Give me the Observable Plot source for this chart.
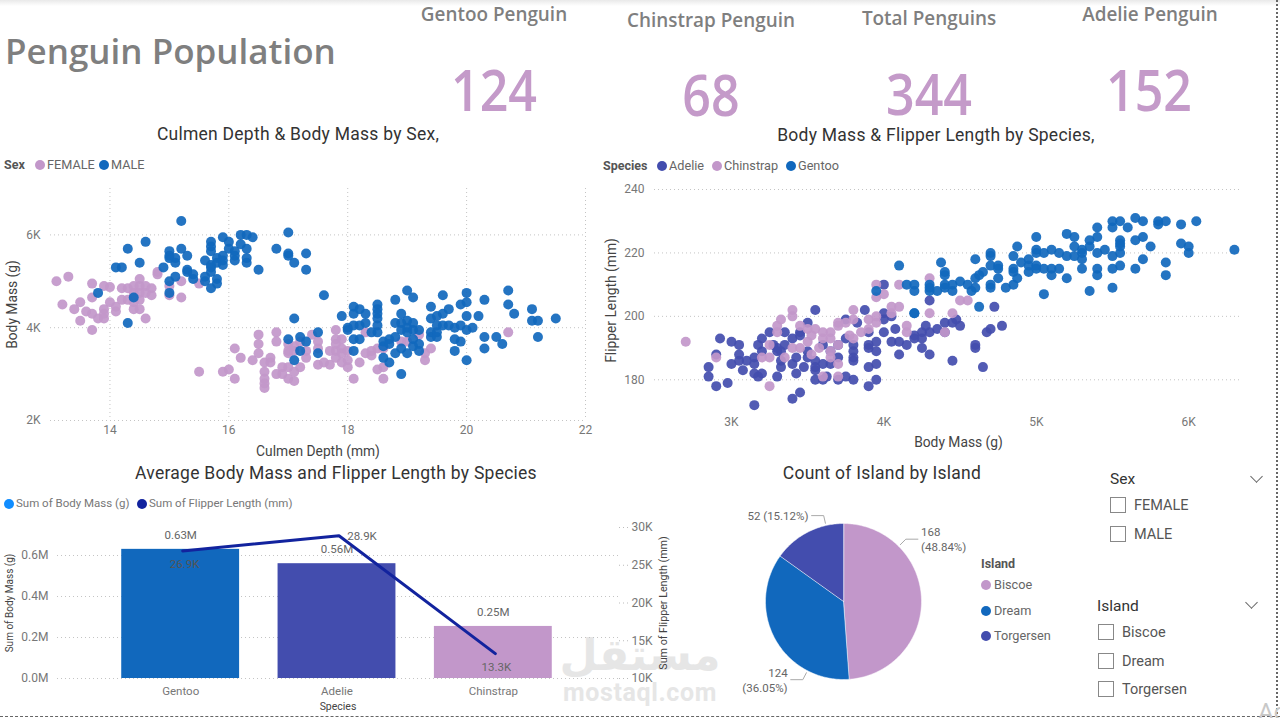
<!DOCTYPE html>
<html><head><meta charset="utf-8">
<script src="https://cdn.jsdelivr.net/npm/d3@7"></script>
<script src="https://cdn.jsdelivr.net/npm/@observablehq/plot@0.6"></script>
<style>
html,body{margin:0;padding:0;background:#fff;overflow:hidden}
#page{position:relative;width:1280px;height:718px;overflow:hidden;background:#fff;font-family:Roboto,sans-serif}
.t{position:absolute;white-space:nowrap;transform:translate(-50%,-50%);line-height:1}
.l{position:absolute;white-space:nowrap;transform:translateY(-50%);line-height:1}
.dot{position:absolute;width:10px;height:10px;border-radius:50%;transform:translate(-50%,-50%)}
.box{position:absolute;width:14px;height:14px;border:1px solid #888;transform:translateY(-50%);background:#fff}
.p{position:absolute}
</style></head><body><div id="page"></div>
<script>
const PINK="#C297CA",BLUE="#1168BD",INDIGO="#434DAE",NAVY="#12239E";

// Scatter 1: [culmen depth mm, body mass g]
const maleDepthMass=[[15.2,6300],[17,6050],[14.6,5850],[14.3,5700],[15.2,5700],[15,5650],[15,5550],[15,5500],[15.1,5500],[15.3,5550],[14.5,5400],[15.1,5400],[14.1,5300],[14.2,5300],[14.9,5300],[15.3,5250],[15.3,5200],[15.4,5150],[15.4,5050],[15.1,5100],[15,5000],[15.6,5100],[15.6,5000],[15.7,5200],[15.7,4850],[15.8,5050],[15.8,4950],[15,4750],[13.8,4750],[14.4,4650],[14.3,4100],[15.6,5450],[15.7,5850],[15.7,5750],[15.7,5650],[15.7,5350],[15.7,5300],[15.8,5500],[15.8,5400],[15.9,5950],[15.9,5550],[15.9,5450],[15.9,5350],[16,5850],[16,5700],[16.1,5650],[16.1,5550],[16.1,5450],[16.2,6000],[16.2,5800],[16.3,6000],[16.3,5700],[16.3,5500],[16.3,5400],[16.4,5950],[16.5,5250],[16.8,5700],[17,5600],[17,5550],[17.1,5400],[17.3,5600],[17.3,5250],[17.6,4700],[17.1,4200],[17.9,4250],[18.1,4450],[18.1,4300],[18.2,4400],[18.3,4300],[18,4000],[18,3950],[18.1,4050],[18.1,3750],[18.2,4050],[18.2,3750],[18.3,4100],[18.5,4500],[18.5,4400],[18.5,4300],[18.5,4200],[18.5,4050],[18.5,3900],[18.4,3900],[18.1,3500],[18.6,3700],[18.6,3600],[18.6,3350],[18.7,3750],[18.7,3650],[18.7,3250],[18.8,4600],[18.8,4100],[18.8,3800],[18.8,3450],[18.9,4300],[18.9,4100],[18.9,3950],[18.9,3550],[18.9,3000],[19,4800],[19,4150],[19,4000],[19,3900],[19,3450],[19.1,4650],[19.1,4100],[19.1,3950],[19.1,3750],[19.1,3600],[19.2,3950],[19.2,3650],[19.2,3500],[19.4,4450],[19.4,4200],[19.4,3900],[19.4,3800],[19.5,4250],[19.5,4050],[19.5,3900],[19.5,3800],[19.6,4700],[19.6,4300],[19.6,4050],[19.7,4400],[19.7,4050],[19.8,4000],[19.8,3750],[19.8,3500],[19.9,4500],[19.9,4050],[19.9,3700],[20,4750],[20,4550],[20,4250],[20,3950],[20,3300],[20.1,4000],[20.2,4250],[20.3,4600],[20.3,3800],[20.3,3550],[20.5,3800],[20.6,3650],[20.7,4800],[20.7,4500],[20.8,4300],[21.1,4400],[21.1,4150],[21.2,4150],[21.2,3800],[21.5,4200],[17,3750],[17.1,3300],[17.2,3800],[17.2,3500],[17.3,3700],[17.5,3900],[17.5,3450]];
const femaleDepthMass=[[13.1,5000],[13.3,5100],[13.2,4500],[13.4,4400],[13.5,4550],[13.5,4150],[13.6,4350],[13.7,4950],[13.7,4650],[13.7,4300],[13.7,3950],[13.8,4200],[13.9,4900],[13.9,4400],[13.9,4300],[13.9,4200],[14,4875],[14,4550],[14.1,4450],[14.1,4350],[14.2,4850],[14.2,4600],[14.3,4850],[14.3,4600],[14.4,4900],[14.4,4750],[14.4,4550],[14.4,4400],[14.5,5050],[14.5,4900],[14.5,4750],[14.5,4600],[14.5,4400],[14.6,4900],[14.6,4750],[14.6,4200],[14.7,4850],[14.7,4700],[14.8,5200],[14.8,5150],[15,4900],[15,4700],[15.2,5000],[15.2,4650],[15.5,4950],[15.5,3050],[15.9,3050],[16,3100],[16.1,3550],[16.1,2900],[16.2,3350],[16.4,3300],[16.5,3850],[16.5,3650],[16.5,3450],[16.6,3250],[16.6,3050],[16.6,2900],[16.6,2800],[16.6,2700],[16.7,3350],[16.7,3250],[16.8,3900],[16.8,3700],[16.8,3000],[16.9,3150],[16.9,3000],[17,3650],[17,3500],[17,3450],[17,3150],[17,2900],[17.1,3600],[17.1,3500],[17.1,3050],[17.1,2850],[17.2,3700],[17.2,3150],[17.3,3500],[17.3,3350],[17.4,3850],[17.5,3700],[17.5,3550],[17.5,3200],[17.6,3250],[17.7,3500],[17.7,3200],[17.8,3950],[17.8,3750],[17.8,3650],[17.8,3500],[17.8,3350],[17.9,3750],[17.9,3550],[17.9,3450],[17.9,3250],[18,3500],[18,3300],[18,3150],[18.1,2900],[18.2,3250],[18.3,3900],[18.3,3450],[18.4,3400],[18.4,3500],[18.5,3550],[18.5,3100],[18.6,3550],[18.6,3150],[18.6,2900],[18.9,3700],[19,3700],[19.2,3850],[19.3,3300],[19.3,3450],[19.4,3550],[20.7,3900]];

// Scatter 2: [body mass g, flipper length mm]
const adelieMassFlipper=[[3150,172],[3400,174],[3450,176],[2900,178],[2975,179],[3900,178],[2850,181],[3175,181],[3300,181],[3425,182],[3150,182],[3200,182],[3550,180],[3600,180],[3700,180],[3750,181],[3800,180],[3950,180],[3625,181],[2850,184],[3325,184],[3475,184],[3550,184],[3550,183],[3900,184],[3950,185],[3075,183],[4650,184],[4450,186],[2900,188],[3000,185],[3050,186],[3100,186],[3150,187],[3150,185],[3325,186],[3400,185],[3425,187],[3500,187],[3550,186],[3600,185],[3650,185],[3700,187],[3800,187],[3800,186],[4100,188],[4300,188],[3050,188],[3200,189],[3300,189],[3325,189],[3500,189],[3650,189],[3800,189],[3900,190],[3950,189],[3050,191],[2925,193],[3000,192],[3175,191],[3200,193],[3250,195],[3275,191],[3300,190],[3350,191],[3350,195],[3400,193],[3450,195],[3450,194],[3500,198],[3600,191],[3700,191],[3750,199],[3750,193],[3800,191],[3825,198],[3550,202],[3875,202],[3900,195],[3900,191],[3950,192],[4000,210],[4000,201],[4000,199],[4000,195],[4050,192],[4075,196],[4100,192],[4150,191],[4200,194],[4200,193],[4250,195],[4250,193],[4250,190],[4275,197],[4300,195],[4300,205],[4350,196],[4400,198],[4400,195],[4450,198],[4475,199],[4500,197],[4600,191],[4600,190],[4675,195],[4700,196],[4725,203],[4775,197],[4050,200]];
const chinstrapMassFlipper=[[2700,192],[2900,187],[3250,178],[3600,181],[3700,181],[3700,185],[3200,187],[3250,187],[3350,187],[3525,188],[3650,187],[3250,191],[3400,190],[3450,190],[3575,190],[3650,189],[3700,191],[3300,197],[3300,195],[3325,199],[3400,202],[3400,200],[3450,197],[3500,196],[3550,196],[3500,192],[3525,194],[3600,195],[3650,195],[3600,193],[3650,193],[3700,198],[3700,197],[3750,198],[3800,202],[3800,199],[3775,194],[3800,193],[3850,195],[3900,199],[3900,196],[3950,198],[3950,200],[4050,203],[4100,203],[4050,201],[3950,206],[4000,207],[3950,210],[4100,210],[4150,197],[4150,195],[4300,212],[4300,201],[4400,195],[4450,201],[4500,205],[4550,205]];
const gentooMassFlipper=[[5650,231],[5500,230],[5550,230],[5700,230],[5800,230],[5850,230],[6050,230],[5800,229],[5950,229],[5600,228],[5500,228],[5400,228],[5200,226],[5000,225],[5250,225],[5400,225],[5700,225],[5350,224],[5650,224],[5550,224],[5550,223],[5950,223],[5550,222],[5750,222],[6000,222],[5350,222],[5250,222],[4875,222],[5000,221],[5100,221],[5300,221],[5450,221],[6300,221],[4700,220],[5000,220],[5050,220],[5150,220],[5300,220],[5400,220],[5550,220],[6000,220],[4700,219],[4850,219],[5200,219],[5250,219],[5500,219],[5300,218],[4600,218],[4950,218],[5700,218],[4900,217],[4375,217],[5850,217],[4100,216],[4700,216],[4750,216],[5550,216],[4950,216],[5000,216],[4850,215],[5000,215],[5050,215],[5100,215],[5150,215],[5300,215],[5400,215],[5500,215],[5650,215],[4750,215],[4400,214],[4650,214],[4850,214],[4950,214],[4400,213],[5100,213],[5400,213],[5850,213],[4625,213],[4600,212],[4750,212],[4875,212],[5200,212],[4500,211],[4150,210],[4200,210],[4300,210],[4400,210],[4450,210],[4550,210],[4700,210],[4850,210],[4300,209],[4400,209],[4600,209],[4700,209],[4800,209],[5500,209],[3950,208],[4200,208],[4300,208],[4350,208],[4450,208],[4575,208],[5350,208],[5050,207],[4625,203],[4200,201],[4200,201]];

// Combo chart
const barSpecies=["Gentoo","Adelie","Chinstrap"];
const barColors=[BLUE,INDIGO,PINK];
const sumMass=[630000,560000,254000];
const sumFlipper=[26900,28900,13300];
const massLabels=["0.63M","0.56M","0.25M"];
const flipperLabels=["26.9K","28.9K","13.3K"];

// Pie
const islands=["Biscoe","Dream","Torgersen"];
const islandCounts=[168,124,52];
const islandLabels=["168\n(48.84%)","124\n(36.05%)","52 (15.12%)"];
const islandColors=[PINK,BLUE,INDIGO];
const leaderAngles=[45,207.5,347];

// KPI cards
const kpiNames=["Gentoo Penguin","Chinstrap Penguin","Total Penguins","Adelie Penguin"];
const kpiValues=["124","68","344","152"];

const page=document.getElementById("page");
function put(cls,text,x,y,css){const d=document.createElement("div");d.className=cls;d.textContent=text;d.style.cssText=`left:${x}px;top:${y}px;`+(css||"");page.appendChild(d);return d}
function mount(svg,x,y){svg.classList.add("p");svg.style.left=x+"px";svg.style.top=y+"px";svg.style.position="absolute";page.appendChild(svg)}

// top shade and page border
put("p","",0,0,"width:1280px;height:6px;background:linear-gradient(#e9e9e9,#fff)");
put("p","",1276,0,"width:0;height:718px;border-left:2px dotted #666");
put("p","",0,716,"width:1280px;height:0;border-top:1px dashed #666");

// Watermark
put("t","مستقل",640,654,"font:bold 44px 'DejaVu Sans';color:#e6e6e6");
put("t","mostaql.com",640,692,"font:bold 25px Roboto,sans-serif;color:#e6e6e6;letter-spacing:.6px");

// Headings
const HEAD="font-family:'Open Sans',sans-serif;font-weight:600;color:#7f7f7f;";
put("l","Penguin Population",5,50,HEAD+"font-size:35px");
const kpiX=[494,711,929,1150],kpiTitleY=[14,20,18,14],kpiValueX=[494,711,929,1149],kpiValueY=[89,94,93,89];
kpiNames.forEach((n,i)=>{
  put("t",n,kpiX[i],kpiTitleY[i],HEAD+"font-size:18.9px");
  put("t",kpiValues[i],kpiValueX[i],kpiValueY[i],`font-family:'Open Sans',sans-serif;font-weight:600;color:#C49AC9;font-size:57px;transform:translate(-50%,-50%) scaleX(.88);`);
});
const TITLE="font-family:Roboto,sans-serif;font-size:17.5px;color:#333;letter-spacing:.25px";
put("t","Culmen Depth & Body Mass by Sex,",298,135,TITLE);
put("t","Body Mass & Flipper Length by Species,",936,136,TITLE);
put("t","Average Body Mass and Flipper Length by Species",336,474,TITLE);
put("t","Count of Island by Island",882,474,TITLE);

// Legends
const LT="font-size:12.7px;color:#666;";const LB="font-size:12.5px;color:#555;font-weight:700;";
put("l","Sex",4,165,LB);
[["FEMALE",40,PINK],["MALE",104,BLUE]].forEach(([n,x,c])=>{put("dot","",x,165,`background:${c}`);put("l",n,x+7,165,LT)});
put("l","Species",603,166,LB);
[["Adelie",662,INDIGO],["Chinstrap",717,PINK],["Gentoo",791,BLUE]].forEach(([n,x,c])=>{put("dot","",x,166,`background:${c}`);put("l",n,x+7,166,LT)});
[["Sum of Body Mass (g)",9,"#118DFF"],["Sum of Flipper Length (mm)",142,NAVY]].forEach(([n,x,c])=>{put("dot","",x,504,`background:${c}`);put("l",n,x+7,504,"font-size:11.5px;color:#777")});
put("l","Island",981,564,LB);
islands.forEach((n,i)=>{const y=[585,611,636][i];put("dot","",986,y,`background:${islandColors[i]}`);put("l",n,994,y,LT)});

// Slicers
const SH="font-size:15.5px;color:#333;";const SI="font-size:14.5px;color:#555;";
put("l","Sex",1110,480,SH);
[["FEMALE",505],["MALE",534]].forEach(([n,y])=>{put("box","",1110,y,"");put("l",n,1134,y+1,SI)});
put("l","Island",1097,607,SH);
islands.forEach((n,i)=>{const y=[632,661,689][i];put("box","",1098,y,"");put("l",n,1122,y+1,SI)});
[[1256,478],[1251,604]].forEach(([x,y])=>{put("p","",x-4,y-6,"width:8px;height:8px;border-right:1px solid #666;border-bottom:1px solid #666;transform:rotate(45deg) ")});
put("l","Ac",1258,712,"font-size:24px;color:#c8c8c8;");

const axisBase={tickSize:0,fontSize:12,fill:"#777",label:null};
const GRID={stroke:"#c4c4c4",strokeOpacity:1,strokeDasharray:"1 3"};
const AXT={fill:"#444",textAnchor:"middle",lineAnchor:"middle"};

// Scatter 1
mount(Plot.plot({width:600,height:280,marginLeft:50,marginRight:15,marginTop:8,marginBottom:40,
  style:{background:"transparent",fontFamily:"Roboto,sans-serif",overflow:"visible"},
  x:{domain:[13,22]},y:{domain:[2000,7000]},
  marks:[
    Plot.gridX([14,16,18,20,22],GRID),
    Plot.gridY([2000,4000,6000],GRID),
    Plot.axisX([14,16,18,20,22],{...axisBase,tickPadding:5}),
    Plot.axisY([2000,4000,6000],{...axisBase,tickPadding:10,tickFormat:d=>d/1000+"K"}),
    Plot.dot(femaleDepthMass,{x:"0",y:"1",r:5,fill:PINK,fillOpacity:.92}),
    Plot.dot(maleDepthMass,{x:"0",y:"1",r:5,fill:BLUE,fillOpacity:.92}),
    Plot.text(["Culmen Depth (mm)"],{frameAnchor:"bottom",dy:31,fontSize:13.8,...AXT}),
    Plot.text(["Body Mass (g)"],{frameAnchor:"left",dx:-38,rotate:-90,fontSize:13.8,...AXT})
  ]}),0,180);

// Scatter 2
mount(Plot.plot({width:645,height:275,marginLeft:59,marginRight:0,marginTop:9,marginBottom:44,
  style:{background:"transparent",fontFamily:"Roboto,sans-serif",overflow:"visible"},
  x:{domain:[2495,6340]},y:{domain:[170,240]},
  marks:[
    Plot.gridY([180,200,220,240],GRID),
    Plot.axisX([3000,4000,5000,6000],{...axisBase,tickPadding:6,tickFormat:d=>d/1000+"K"}),
    Plot.axisY([180,200,220,240],{...axisBase,tickPadding:10}),
    Plot.dot(adelieMassFlipper,{x:"0",y:"1",r:5,fill:INDIGO,fillOpacity:.92}),
    Plot.dot(chinstrapMassFlipper,{x:"0",y:"1",r:5,fill:PINK,fillOpacity:.92}),
    Plot.dot(gentooMassFlipper,{x:"0",y:"1",r:5,fill:BLUE,fillOpacity:.92}),
    Plot.text(["Body Mass (g)"],{frameAnchor:"bottom",dy:31,dx:11,fontSize:13.8,...AXT}),
    Plot.text(["Flipper Length (mm)"],{frameAnchor:"left",dx:-43,rotate:-90,fontSize:13.8,...AXT})
  ]}),595,180);

// Combo: bars
const barRows=barSpecies.map((s,i)=>({s,mass:sumMass[i],flip:sumFlipper[i],ml:massLabels[i],fl:flipperLabels[i]}));
const comboX={domain:barSpecies,paddingInner:.246,paddingOuter:.123,insetLeft:45,insetRight:47,round:false,label:null};
mount(Plot.plot({width:680,height:208,marginLeft:57,marginRight:62,marginTop:17,marginBottom:40,
  style:{background:"transparent",fontFamily:"Roboto,sans-serif",overflow:"visible"},
  x:comboX,y:{domain:[0,736600]},color:{domain:barSpecies,range:barColors},
  marks:[
    Plot.gridY([0,200000,400000,600000],GRID),
    Plot.barY(barRows,{x:"s",y:"mass",fill:"s"}),
    Plot.axisX({...axisBase,fontSize:11.5,tickPadding:8}),
    Plot.axisY([0,200000,400000,600000],{...axisBase,tickPadding:9,tickFormat:d=>(d/1e6).toFixed(1)+"M"}),
    Plot.text(barRows,{x:"s",y:"mass",text:"ml",dy:-14,fontSize:11.5,fill:"#666"}),
    Plot.text(["Species"],{frameAnchor:"bottom",dy:28,fontSize:10.5,...AXT}),
    Plot.text(["Sum of Body Mass (g)"],{frameAnchor:"left",dx:-48,rotate:-90,fontSize:10,...AXT})
  ]}),0,510);

// Combo: line on its own y axis, same frame
mount(Plot.plot({width:680,height:208,marginLeft:57,marginRight:62,marginTop:17,marginBottom:40,
  style:{background:"transparent",fontFamily:"Roboto,sans-serif",overflow:"visible"},
  x:{...comboX,axis:null},y:{domain:[10000,30000]},
  marks:[
    Plot.axisY([10000,15000,20000,25000,30000],{...axisBase,anchor:"right",tickSize:10,stroke:"#bbb",strokeDasharray:"1 3",tickPadding:3,tickFormat:d=>d/1000+"K"}),
    Plot.line(barRows,{x:"s",y:"flip",stroke:NAVY,strokeWidth:3,dx:2}),
    Plot.text(barRows.filter(d=>d.s==="Gentoo"),{x:"s",y:"flip",text:"fl",dx:4,dy:13,fontSize:11.5,fill:"#555"}),
    Plot.text(barRows.filter(d=>d.s==="Adelie"),{x:"s",y:"flip",text:"fl",dx:25,dy:1,fontSize:11.5,fill:"#666"}),
    Plot.text(barRows.filter(d=>d.s==="Chinstrap"),{x:"s",y:"flip",text:"fl",dx:3,dy:14,fontSize:11.5,fill:"#666"}),
    Plot.text(["Sum of Flipper Length (mm)"],{frameAnchor:"right",dx:45,rotate:-90,fontSize:10.7,...AXT})
  ]}),0,510);

// Pie: slices are polygons in a data-space unit circle, drawn through x/y scales
const total=d3.sum(islandCounts);
let acc=0;const piePts=[];
islands.forEach((isl,i)=>{
  const a0=acc/total*2*Math.PI;acc+=islandCounts[i];const a1=acc/total*2*Math.PI;
  piePts.push({isl,x:0,y:0});
  const n=Math.ceil((a1-a0)*60);
  for(let k=0;k<=n;k++){const a=a0+(a1-a0)*k/n;piePts.push({isl,x:Math.sin(a),y:Math.cos(a)})}
});
const rad=d=>d*Math.PI/180;
const leaders=[],pieText=[];
islands.forEach((isl,i)=>{
  const a=rad(leaderAngles[i]),s=Math.sin(a),c=Math.cos(a),dir=s>0?1:-1;
  const bx=1.13*s,by=1.13*c,cx=bx+dir*.155;
  leaders.push({isl,x:1.03*s,y:1.03*c},{isl,x:bx,y:by},{isl,x:cx,y:by});
  pieText.push({x:cx+dir*.04,y:by,t:islandLabels[i],anchor:dir>0?"start":"end"});
});
const U=78;
mount(Plot.plot({width:300,height:228,margin:0,
  style:{background:"transparent",fontFamily:"Roboto,sans-serif",overflow:"visible"},
  x:{domain:[-143/U,157/U],axis:null},y:{domain:[-117/U,111/U],axis:null},
  color:{domain:islands,range:islandColors},
  marks:[
    Plot.line(piePts,{x:"x",y:"y",z:"isl",fill:"isl",stroke:"#fff",strokeWidth:.5,curve:"linear-closed"}),
    Plot.line(leaders,{x:"x",y:"y",z:"isl",stroke:"#aaa",strokeWidth:1}),
    Plot.text(pieText.filter(d=>d.anchor==="start"),{x:"x",y:"y",text:"t",textAnchor:"start",fontSize:11.5,fill:"#666",lineHeight:1.3}),
    Plot.text(pieText.filter(d=>d.anchor==="end"),{x:"x",y:"y",text:"t",textAnchor:"end",fontSize:11.5,fill:"#666",lineHeight:1.3})
  ]}),700,490);
</script></body></html>
